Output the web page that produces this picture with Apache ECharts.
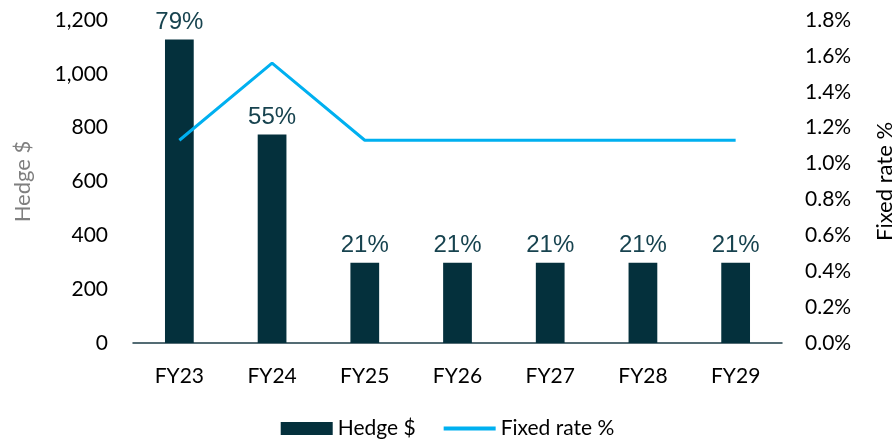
<!DOCTYPE html>
<html>
<head>
<meta charset="utf-8">
<script src="https://cdn.jsdelivr.net/npm/echarts@6/dist/echarts.min.js"></script>
<style>
  html, body { margin: 0; padding: 0; background: #fff; }
  #chart { width: 895px; height: 444px; }
</style>
</head>
<body>
<div id="chart"></div>
<script>
  var years = ['FY23', 'FY24', 'FY25', 'FY26', 'FY27', 'FY28', 'FY29']
  var hedge = [1128, 775, 298, 298, 298, 298, 298]
  var hedgePct = ['79%', '55%', '21%', '21%', '21%', '21%', '21%']
  var fixedRate = [1.13, 1.56, 1.13, 1.13, 1.13, 1.13, 1.13]

  var chart = echarts.init(document.getElementById('chart'))
  var tickFont = { fontFamily: 'Lato', fontSize: 21, color: '#000' }

  var option = {
    animation: false,
    grid: { left: 133, right: 113, top: 20, bottom: 101, outerBoundsMode: 'none', containLabel: false },
    legend: {
      bottom: 0,
      left: 'center',
      itemGap: 28,
      itemWidth: 52,
      itemHeight: 13,
      textStyle: { fontFamily: 'Lato', fontSize: 21, color: '#000' },
      data: [
        { name: 'Hedge $', icon: 'rect', itemStyle: { color: '#04303c' } },
        { name: 'Fixed rate %', icon: 'path://M0,0 L52,0 L52,4 L0,4 Z', itemStyle: { color: '#00b0f0' } }
      ]
    },
    xAxis: {
      type: 'category',
      data: years,
      axisLine: { lineStyle: { color: '#1d3d47', width: 1.5 } },
      axisTick: { show: false },
      axisLabel: Object.assign({ margin: 23 }, tickFont)
    },
    yAxis: [
      {
        type: 'value',
        min: 0,
        max: 1200,
        interval: 200,
        name: 'Hedge $',
        nameLocation: 'middle',
        nameGap: 99,
        nameTextStyle: { fontFamily: 'Lato', fontSize: 22, color: '#7f7f7f' },
        splitLine: { show: false },
        axisLine: { show: false },
        axisTick: { show: false },
        axisLabel: Object.assign({
          margin: 25,
          formatter: function (v) { return v.toLocaleString('en-US') }
        }, tickFont)
      },
      {
        type: 'value',
        min: 0,
        max: 1.8,
        interval: 0.2,
        name: 'Fixed rate %',
        nameLocation: 'middle',
        nameGap: 92,
        nameRotate: 90,
        nameTextStyle: { fontFamily: 'Lato', fontSize: 22, color: '#000' },
        splitLine: { show: false },
        axisLine: { show: false },
        axisTick: { show: false },
        axisLabel: Object.assign({
          margin: 23,
          formatter: function (v) { return v.toFixed(1) + '%' }
        }, tickFont)
      }
    ],
    series: [
      {
        name: 'Hedge $',
        type: 'bar',
        data: hedge,
        barWidth: '31%',
        itemStyle: { color: '#04303c' },
        label: {
          show: true,
          position: 'top',
          distance: 5,
          fontFamily: 'Liberation Sans',
          fontSize: 24,
          color: '#17434f',
          formatter: function (p) { return hedgePct[p.dataIndex] }
        }
      },
      {
        name: 'Fixed rate %',
        type: 'line',
        yAxisIndex: 1,
        data: fixedRate,
        symbol: 'none',
        lineStyle: { color: '#00b0f0', width: 3 },
        itemStyle: { color: '#00b0f0' }
      }
    ]
  }

  chart.setOption(option)
</script>
</body>
</html>
